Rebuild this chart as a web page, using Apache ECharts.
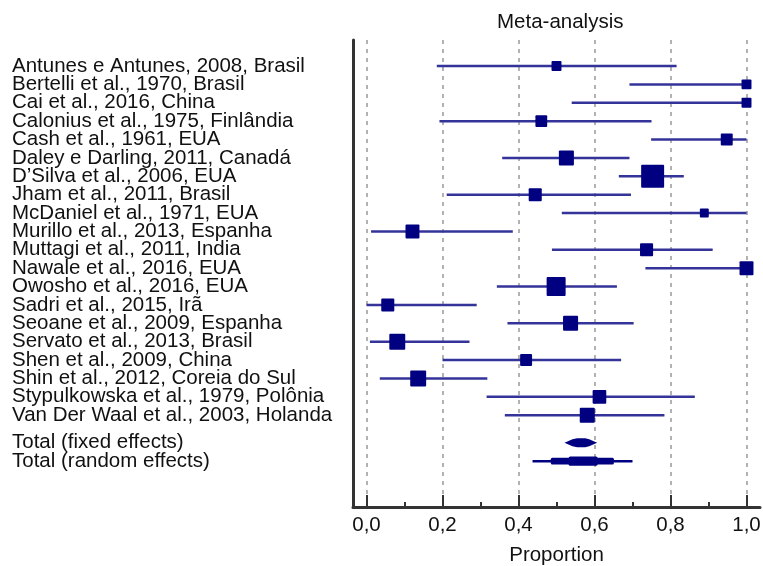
<!DOCTYPE html>
<html>
<head>
<meta charset="utf-8">
<script src="https://cdn.jsdelivr.net/npm/echarts@6/dist/echarts.min.js"></script>
<style>html,body{margin:0;padding:0;background:#fff}#c{width:763px;height:566px}</style>
</head>
<body>
<div id="c"></div>
<script>
const studies = [
  "Antunes e Antunes, 2008, Brasil",
  "Bertelli et al., 1970, Brasil",
  "Cai et al., 2016, China",
  "Calonius et al., 1975, Finlândia",
  "Cash et al., 1961, EUA",
  "Daley e Darling, 2011, Canadá",
  "D\u2019Silva et al., 2006, EUA",
  "Jham et al., 2011, Brasil",
  "McDaniel et al., 1971, EUA",
  "Murillo et al., 2013, Espanha",
  "Muttagi et al., 2011, India",
  "Nawale et al., 2016, EUA",
  "Owosho et al., 2016, EUA",
  "Sadri et al., 2015, Irã",
  "Seoane et al., 2009, Espanha",
  "Servato et al., 2013, Brasil",
  "Shen et al., 2009, China",
  "Shin et al., 2012, Coreia do Sul",
  "Stypulkowska et al., 1979, Polônia",
  "Van Der Waal et al., 2003, Holanda"
];
const estimates = [0.50, 1.00, 1.00, 0.46, 0.948, 0.526, 0.753, 0.444, 0.889, 0.121, 0.737, 1.00, 0.499, 0.056, 0.537, 0.081, 0.42, 0.136, 0.613, 0.581];
const lower     = [0.185, 0.692, 0.54, 0.192, 0.749, 0.357, 0.664, 0.211, 0.514, 0.012, 0.488, 0.734, 0.343, 0.0, 0.371, 0.009, 0.20, 0.035, 0.316, 0.364];
const upper     = [0.816, 1.0, 1.0, 0.75, 1.0, 0.692, 0.835, 0.696, 1.0, 0.385, 0.911, 1.0, 0.659, 0.29, 0.703, 0.271, 0.67, 0.318, 0.864, 0.784];
const weights   = [2.5, 2.5, 2.5, 3.5, 3.6, 5.7, 13.3, 4.3, 2.0, 4.9, 4.3, 4.9, 9.1, 4.3, 5.7, 6.4, 3.6, 6.4, 4.7, 5.7];

const totalNames = ["Total (fixed effects)", "Total (random effects)"];
const totalEst   = [0.565, 0.57];
const totalLower = [0.521, 0.437];
const totalUpper = [0.607, 0.70];
const randomMid  = [0.485, 0.651];
const randomCore = [0.532, 0.608];

const xTicks = [0, 0.2, 0.4, 0.6, 0.8, 1.0];

const FAMILY = '"Liberation Sans", Arial, sans-serif';
const FONT = '20.5px ' + FAMILY;
const LINE = '#333399';
const MARK = '#000080';
const TXT = '#111';

const chart = echarts.init(document.getElementById('c'), null, {renderer: 'canvas'});

const studyData = studies.map((n, i) => [estimates[i], i + 1, lower[i], upper[i], weights[i], i]);
const totalRows = [21.5, 22.5];
const totalData = totalNames.map((n, i) => [totalEst[i], totalRows[i], totalLower[i], totalUpper[i], i]);

chart.setOption({
  animation: false,
  title: {
    text: 'Meta-analysis',
    left: 492, top: 7,
    textStyle: {fontFamily: FAMILY, fontSize: 20.5, fontWeight: 'normal', color: TXT}
  },
  grid: [
    {left: 353, right: 3, top: 40, bottom: 59, containLabel: false, outerBoundsMode: 'none'},
    {left: 366.5, right: 16.5, top: 40, bottom: 59, containLabel: false, outerBoundsMode: 'none'}
  ],
  xAxis: [
    {gridIndex: 0, type: 'value', min: 0, max: 1, position: 'bottom',
      axisLine: {show: true, onZero: false, lineStyle: {color: '#333', width: 3}},
      axisTick: {show: false}, axisLabel: {show: false}, splitLine: {show: false}},
    {gridIndex: 1, type: 'value', min: xTicks[0], max: xTicks[xTicks.length - 1], interval: 0.2, position: 'bottom',
      axisLine: {show: false, onZero: false},
      axisTick: {show: true, inside: true, length: 12, lineStyle: {color: '#333', width: 2}},
      minorTick: {show: true, splitNumber: 2, length: 5, lineStyle: {color: '#333', width: 2}},
      splitLine: {show: true, lineStyle: {color: '#999', width: 1.5, type: [4, 5]}},
      axisLabel: {margin: 8, fontSize: 20.5, fontFamily: FAMILY, color: TXT,
        formatter: v => v.toFixed(1).replace('.', ',')},
      name: 'Proportion', nameLocation: 'middle', nameGap: 38,
      nameTextStyle: {fontSize: 20.5, fontFamily: FAMILY, color: TXT}
    }
  ],
  yAxis: [
    {gridIndex: 0, type: 'value', min: 0, max: 1, position: 'left',
      axisLine: {show: true, onZero: false, lineStyle: {color: '#333', width: 3}},
      axisTick: {show: false}, axisLabel: {show: false}, splitLine: {show: false}},
    {gridIndex: 1, type: 'value', inverse: true, min: -0.4146, max: 24.994, show: false,
      axisLine: {onZero: false}}
  ],
  series: [
    {
      type: 'custom', xAxisIndex: 1, yAxisIndex: 1, clip: false, silent: true,
      data: studyData,
      renderItem: function (params, api) {
        const row = api.value(1);
        const pe = api.coord([api.value(0), row]);
        const pl = api.coord([api.value(2), row]);
        const pu = api.coord([api.value(3), row]);
        const s = Math.sqrt(api.value(4)) * 6.3;
        const y = pe[1];
        return {
          type: 'group',
          children: [
            {type: 'line', shape: {x1: pl[0], y1: y, x2: pu[0], y2: y}, style: {stroke: LINE, lineWidth: 2.5}},
            {type: 'rect', shape: {x: pe[0] - s / 2, y: y - s / 2, width: s, height: s, r: 1}, style: {fill: MARK}},
            {type: 'text', style: {x: 12, y: y, text: studies[api.value(5)], font: FONT, fill: TXT, align: 'left', verticalAlign: 'middle'}}
          ]
        };
      }
    },
    {
      type: 'custom', xAxisIndex: 1, yAxisIndex: 1, clip: false, silent: true,
      data: totalData,
      renderItem: function (params, api) {
        const row = api.value(1);
        const idx = api.value(4);
        const pe = api.coord([api.value(0), row]);
        const pl = api.coord([api.value(2), row]);
        const pu = api.coord([api.value(3), row]);
        const y = pe[1];
        const children = [
          {type: 'text', style: {x: 12, y: y, text: totalNames[idx], font: FONT, fill: TXT, align: 'left', verticalAlign: 'middle'}}
        ];
        if (idx === 0) {
          children.push({type: 'polygon', shape: {points: [[pl[0], y], [pl[0] + 8, y - 3.5], [pe[0] - 4, y - 4.5], [pe[0] + 4, y - 4.5], [pu[0] - 8, y - 3.5], [pu[0], y], [pu[0] - 8, y + 3.5], [pe[0] + 4, y + 4.5], [pe[0] - 4, y + 4.5], [pl[0] + 8, y + 3.5]]}, style: {fill: MARK}});
        } else {
          const m0 = api.coord([randomMid[0], row])[0], m1 = api.coord([randomMid[1], row])[0];
          const c0 = api.coord([randomCore[0], row])[0], c1 = api.coord([randomCore[1], row])[0];
          children.push({type: 'line', shape: {x1: pl[0], y1: y, x2: pu[0], y2: y}, style: {stroke: MARK, lineWidth: 2.5}});
          children.push({type: 'rect', shape: {x: m0, y: y - 3.3, width: m1 - m0, height: 6.6, r: 1.5}, style: {fill: MARK}});
          children.push({type: 'rect', shape: {x: c0, y: y - 4.7, width: c1 - c0, height: 9.4, r: 1.5}, style: {fill: MARK}});
        }
        return {type: 'group', children: children};
      }
    }
  ]
});
</script>
</body>
</html>
